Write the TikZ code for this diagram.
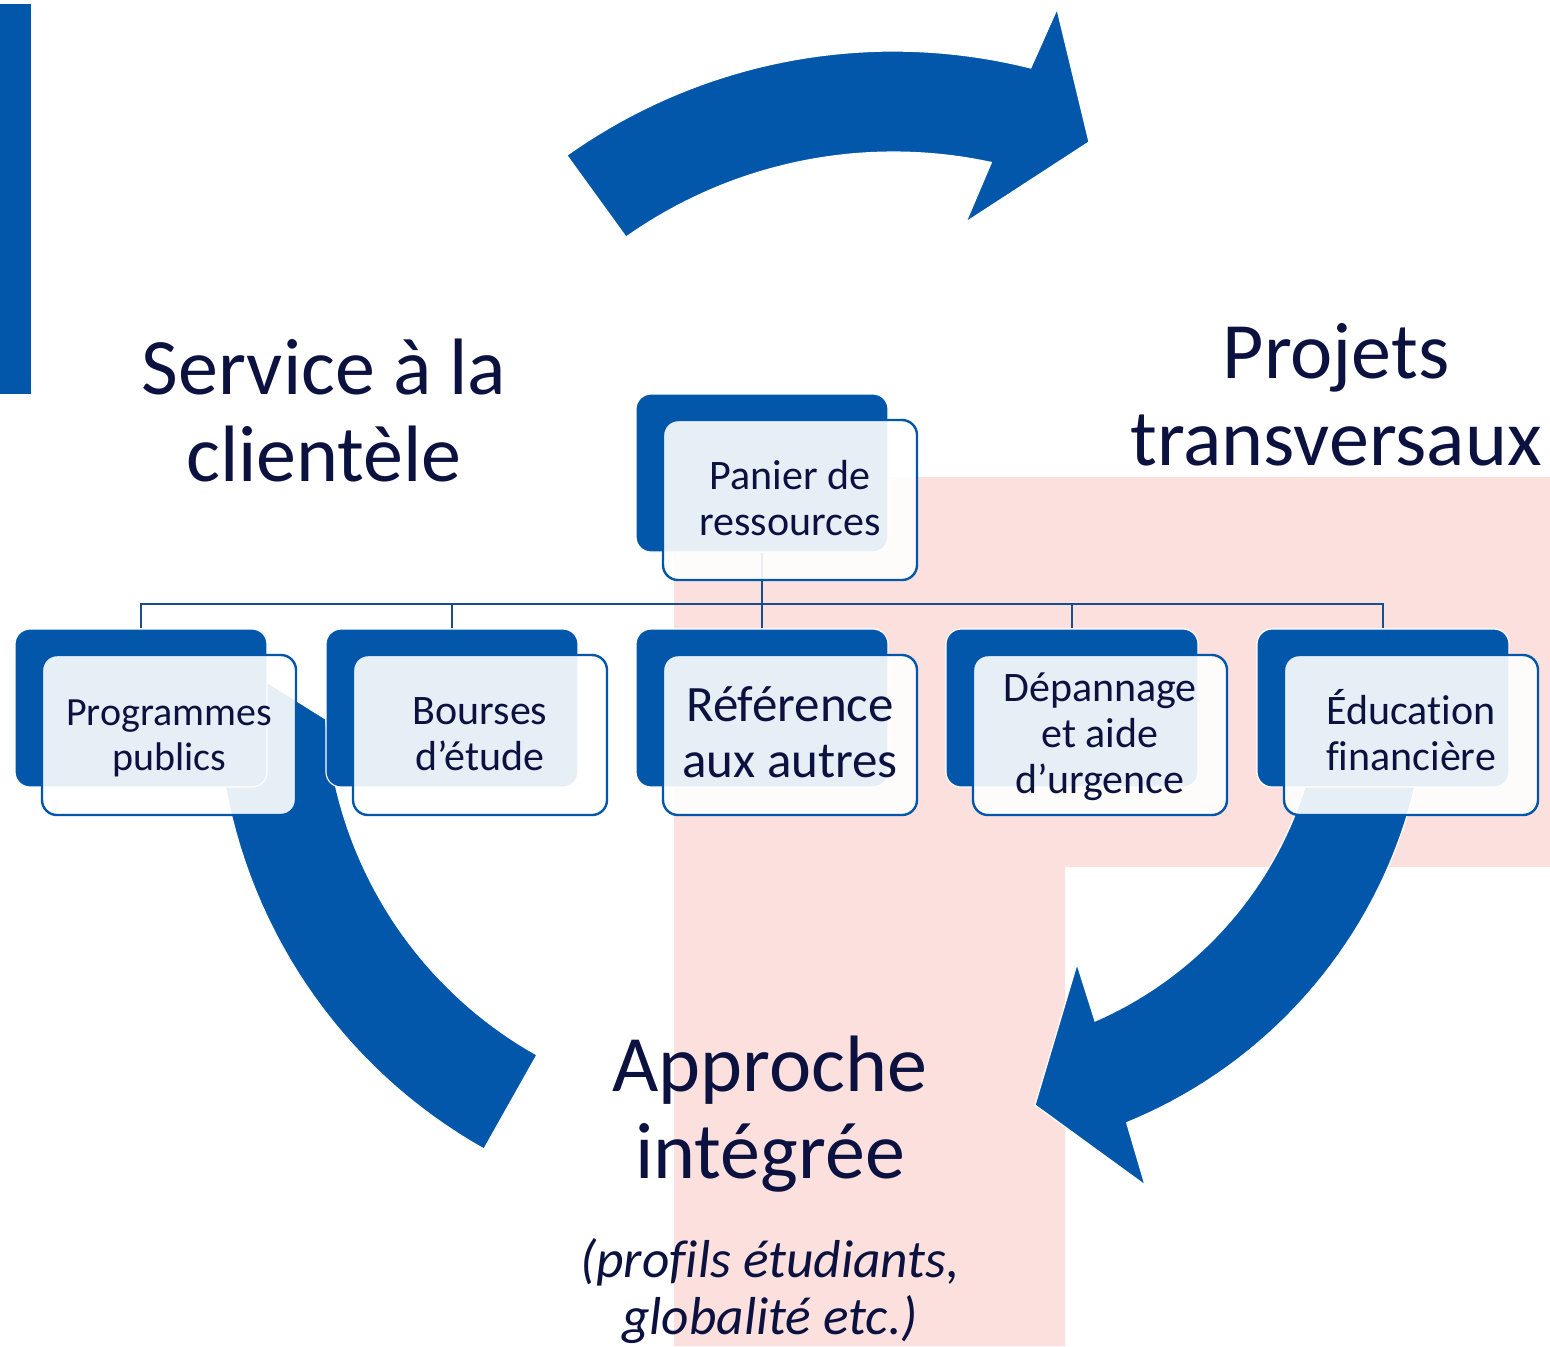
\documentclass[tikz,border=0pt]{standalone}
\usepackage{fontspec}
\setmainfont{Carlito}[Ligatures=NoCommon]
\usetikzlibrary{calc}
\definecolor{mblue}{RGB}{3,87,170}
\definecolor{lineblue}{RGB}{25,78,142}
\definecolor{navy}{RGB}{12,18,64}
\definecolor{rose}{RGB}{252,224,222}
\newcommand\topstrut{\rule{0pt}{\dimexpr0.7\baselineskip+3.5pt\relax}}
\begin{document}
\begin{tikzpicture}[x=0.5pt,y=-0.5pt,
  backbox/.style={rectangle, rounded corners=7.5pt, fill=mblue, draw=white, line width=0.6pt, minimum width=126pt, minimum height=79pt, inner sep=0pt},
  frontbox/.style={rectangle, rounded corners=7.5pt, fill=white, fill opacity=0.9, text opacity=1, draw=mblue, draw opacity=1, line width=1.2pt, minimum width=127pt, minimum height=80pt, inner sep=0pt, align=center, text=navy, font=\fontsize{21pt}{23pt}\selectfont},
  conn/.style={draw=lineblue, line width=1.2pt},
  bigarrow/.style={fill=mblue, draw=white, line width=0.6pt},
  biglabel/.style={align=center, text=navy, font=\fontsize{40pt}{43.5pt}\selectfont, inner sep=0pt},
  sublabel/.style={align=center, text=navy, font=\fontsize{26.7pt}{28.5pt}\selectfont\itshape, inner sep=0pt},
]
\useasboundingbox (0,0) rectangle (1550,1346);

% pink background shape
\fill[rose] (674,477) -- (1550,477) -- (1550,867) -- (1065,867) -- (1065,1346) -- (674,1346) -- cycle;

% left bar
\fill[mblue] (0,4) rectangle (31,394);

% top arrow
\path[bigarrow] plot[domain=0:1,samples=40] ({893.5+564*cos(-125.4+49.5*\x)},{615+564*sin(-125.4+49.5*\x)})
  -- (1057,9) -- (1089,142) -- (966,222)
  -- plot[domain=0:1,samples=40] ({893.5+463*cos(-77.8-47.5*\x)},{615+463*sin(-77.8-47.5*\x)}) -- cycle;

% left arc
\path[bigarrow] plot[domain=0:1,samples=40] ({740+523*cos(184.5-65.2*\x)},{693+523*sin(184.5-65.2*\x)})
  -- plot[domain=0:1,samples=40] ({740+415*cos(119.3+57.1*\x)},{693+415*sin(119.3+57.1*\x)}) -- cycle;

% right arrow
\path[bigarrow] plot[domain=0:1,samples=40] ({943.3+485*cos(10.25+57.55*\x)},{673.7+485*sin(10.25+57.55*\x)})
  -- (1145,1185) -- (1035,1105) -- (1077,964)
  -- plot[domain=0:1,samples=40] ({943.3+379*cos(66.4-53.2*\x)},{673.7+379*sin(66.4-53.2*\x)}) -- cycle;

% big labels
\node[biglabel] (l1) at (324,420.4) {\strut Service à la\\\strut clientèle};
\node[biglabel] (l2) at (1336,404.4) {\strut Projets\\\strut transversaux};
\node[biglabel] (l3) at (770,1117.4) {\strut Approche\\\strut intégrée};
\node[sublabel] (l4) at (770,1295) {\strut (profils étudiants,\\\strut globalité etc.)};

% back boxes
\coordinate (bus) at (0,604);
\node[backbox] (b0) at (762,473) {};
\node[backbox] (b1) at (141,708) {};
\node[backbox] (b2) at (452,708) {};
\node[backbox] (b3) at (762,708) {};
\node[backbox] (b4) at (1072,708) {};
\node[backbox] (b5) at (1383,708) {};

% connectors (under the translucent front boxes)
\foreach \k in {1,...,5}
  \draw[conn] (b0.south) -- (b0.south |- bus) -| (b\k.north);

% front boxes
\node[frontbox] (f0) at (790,500) {\topstrut Panier de\\\strut ressources\strut};
\node[frontbox, font=\fontsize{20pt}{22.5pt}\selectfont] (f1) at (169,735) {\topstrut Programmes\\\strut publics\strut};
\node[frontbox] (f2) at (480,735) {\topstrut Bourses\\\strut d’étude\strut};
\node[frontbox, font=\fontsize{25.5pt}{28pt}\selectfont] (f3) at (790,735) {\topstrut Référence\\\strut aux autres\strut};
\node[frontbox] (f4) at (1100,735) {\topstrut Dépannage\\\strut et aide\\\strut d’urgence\strut};
\node[frontbox] (f5) at (1411,735) {\topstrut Éducation\\\strut financière\strut};
\end{tikzpicture}
\end{document}
